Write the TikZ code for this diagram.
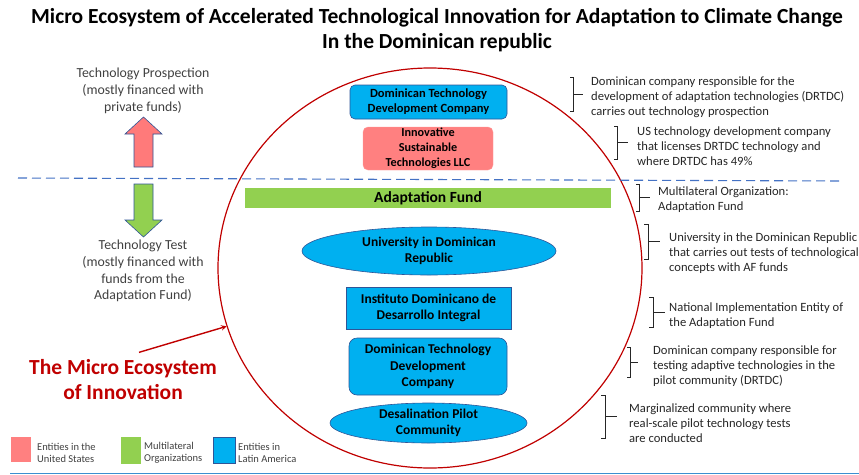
\documentclass[tikz,border=0pt]{standalone}
\usepackage{fontspec}
\setmainfont{Carlito}
\usepackage{tikz}
\usetikzlibrary{positioning, calc, shapes.geometric}
\usepackage{xcolor}
\definecolor{xred}{HTML}{C00000}
\definecolor{xpink}{HTML}{FF8080}
\definecolor{xgreen}{HTML}{92D050}
\definecolor{xblue}{HTML}{00B0F0}
\definecolor{xborder}{HTML}{2F5597}
\definecolor{xdash}{HTML}{4472C4}
\definecolor{xgray}{HTML}{404040}
\definecolor{xframe}{HTML}{3B8FD0}
\tikzset{
	arrow/.style={thick, ->, >=stealth},
	entity/.style={fill=xblue, draw=xborder, line width=0.6pt, align=center, inner sep=0pt,
		font=\fontsize{13.5}{16.5}\selectfont\bfseries},
	usentity/.style={fill=xpink, draw=xpink!80, rounded corners=5pt, align=center, inner sep=0pt,
		font=\fontsize{12.2}{15}\selectfont\bfseries},
	note/.style={anchor=west, align=left, inner sep=0pt, text=black!85,
		font=\fontsize{12.6}{15}\selectfont},
	side/.style={align=center, inner sep=0pt, text=xgray,
		font=\fontsize{13.8}{16.8}\selectfont},
	legend/.style={anchor=west, align=left, inner sep=0pt, text=xgray,
		font=\fontsize{10.5}{12.5}\selectfont},
	brace/.style={thick, black!85},
	fatarrow/.style={draw=xborder, line width=0.6pt, line join=miter},
}

\begin{document}
\begin{tikzpicture}[x=1pt, y=-1pt]
		\useasboundingbox (0,0) rectangle (859,474);
		% Title
		\node[align=center, font=\fontsize{21.5}{24.5}\selectfont\bfseries] (title) at (437,30)
			{Micro Ecosystem of Accelerated Technological Innovation for Adaptation to Climate Change\\In the Dominican republic};

		% The micro ecosystem
		\node[draw=xred, line width=1.2pt, ellipse, minimum width=424pt, minimum height=400pt] (eco) at (430,268) {};
		\draw[xdash, line width=1.1pt, dash pattern=on 9pt off 5pt] (18,178) -- (842,181);

		% Prospection and test
		\node[side] (prosp) at (143,91) {Technology Prospection\\(mostly financed with\\private funds)};
		\fill[xpink!95!red, fatarrow] (134,167) -- (134,134) -- (125,134) -- (143.5,117) -- (162,134) -- (153,134) -- (153,167) -- cycle;
		\fill[xgreen, fatarrow] (134,184) -- (153,184) -- (153,220) -- (162,220) -- (143.5,237) -- (125,220) -- (134,220) -- cycle;
		\node[side] (test) at (143,271) {Technology Test\\(mostly financed with\\funds from the\\Adaptation Fund)};

		% Entities
		\node[entity, rounded corners=5pt, minimum width=157pt, minimum height=34pt, font=\fontsize{12.5}{15}\selectfont\bfseries] (dtdc1) at (428.5,102) {Dominican Technology\\Development Company};
		\node[usentity, minimum width=130pt, minimum height=43pt] (ist) at (428,148.5) {Innovative\\Sustainable\\Technologies LLC};
		\node[fill=xgreen, minimum width=366pt, minimum height=20pt, inner sep=0pt, font=\fontsize{15.5}{17}\selectfont\bfseries] (af) at (428,198) {Adaptation Fund};
		\node[entity, ellipse, minimum width=254pt, minimum height=48pt] (udr) at (429,251) {University in Dominican\\Republic};
		\node[entity, minimum width=165pt, minimum height=42pt] (idd) at (428.5,308) {Instituto Dominicano de\\Desarrollo Integral};
		\node[entity, rounded corners=8pt, minimum width=158pt, minimum height=57pt] (dtdc2) at (428,366.5) {Dominican Technology\\Development\\Company};
		\node[entity, ellipse, minimum width=197pt, minimum height=40pt] (dpc) at (428.5,423) {Desalination Pilot\\Community};

		% Notes
		\node[note] (n1) at (591,97.5) {Dominican company responsible for the\\development of adaptation technologies (DRTDC)\\carries out technology prospection};
		\node[note] (n2) at (637,146) {US technology development company\\that licenses DRTDC technology and\\where DRTDC has 49\%};
		\node[note] (n3) at (658,199.5) {Multilateral Organization:\\Adaptation Fund};
		\node[note] (n4) at (669,253) {University in the Dominican Republic\\that carries out tests of technological\\concepts with AF funds};
		\node[note] (n5) at (669,315.5) {National Implementation Entity of\\the Adaptation Fund};
		\node[note] (n6) at (653,366) {Dominican company responsible for\\testing adaptive technologies in the\\pilot community (DRTDC)};
		\node[note] (n7) at (629,423.5) {Marginalized community where\\real-scale pilot technology tests\\are conducted};

		\draw[brace] (570,77) -- (573,77) -- (573,111) -- (570,111) (573,94) -- (583,94);
		\draw[brace] (614,126) -- (617,126) -- (617,159) -- (614,159) (617,142.5) -- (628,142.5);
		\draw[brace] (636,184) -- (639,184) -- (639,211) -- (636,211) (639,197.5) -- (650,197.5);
		\draw[brace] (644,224) -- (648,224) -- (648,259) -- (644,259) (648,241.5) -- (660,241.5);
		\draw[brace] (649,297) -- (653,297) -- (653,327) -- (649,327) (653,312) -- (665,312);
		\draw[brace] (627,347) -- (630,347) -- (630,377) -- (627,377) (630,362) -- (638,362);
		\draw[brace] (601,395) -- (605,395) -- (605,438) -- (601,438) (605,416.5) -- (617,416.5);

		% Label of the ecosystem
		\node[align=center, text=xred, font=\fontsize{21.5}{25}\selectfont\bfseries] (ecolabel) at (123,380) {The Micro Ecosystem\\of Innovation};
		\draw[arrow, xred, line width=1.4pt] ([xshift=16pt, yshift=4pt]ecolabel.north) -- (eco.196);

		% Legend
		\node[fill=xpink, minimum width=20pt, minimum height=25pt, inner sep=0pt] (lus) at (21,449.5) {};
		\node[legend] (tus) at (37,453) {Entities in the\\United States};
		\node[fill=xgreen, minimum width=20pt, minimum height=27pt, inner sep=0pt] (lmo) at (131,450.5) {};
		\node[legend] (tmo) at (144,452.5) {Multilateral\\Organizations};
		\node[fill=xblue, draw=xborder, minimum width=22pt, minimum height=26pt, inner sep=0pt] (lla) at (224,450) {};
		\node[legend] (tla) at (238,453) {Entities in\\Latin America};

		\draw[xframe, line width=0.8pt] (10,473) -- (859,473);
	\end{tikzpicture}
\end{document}
